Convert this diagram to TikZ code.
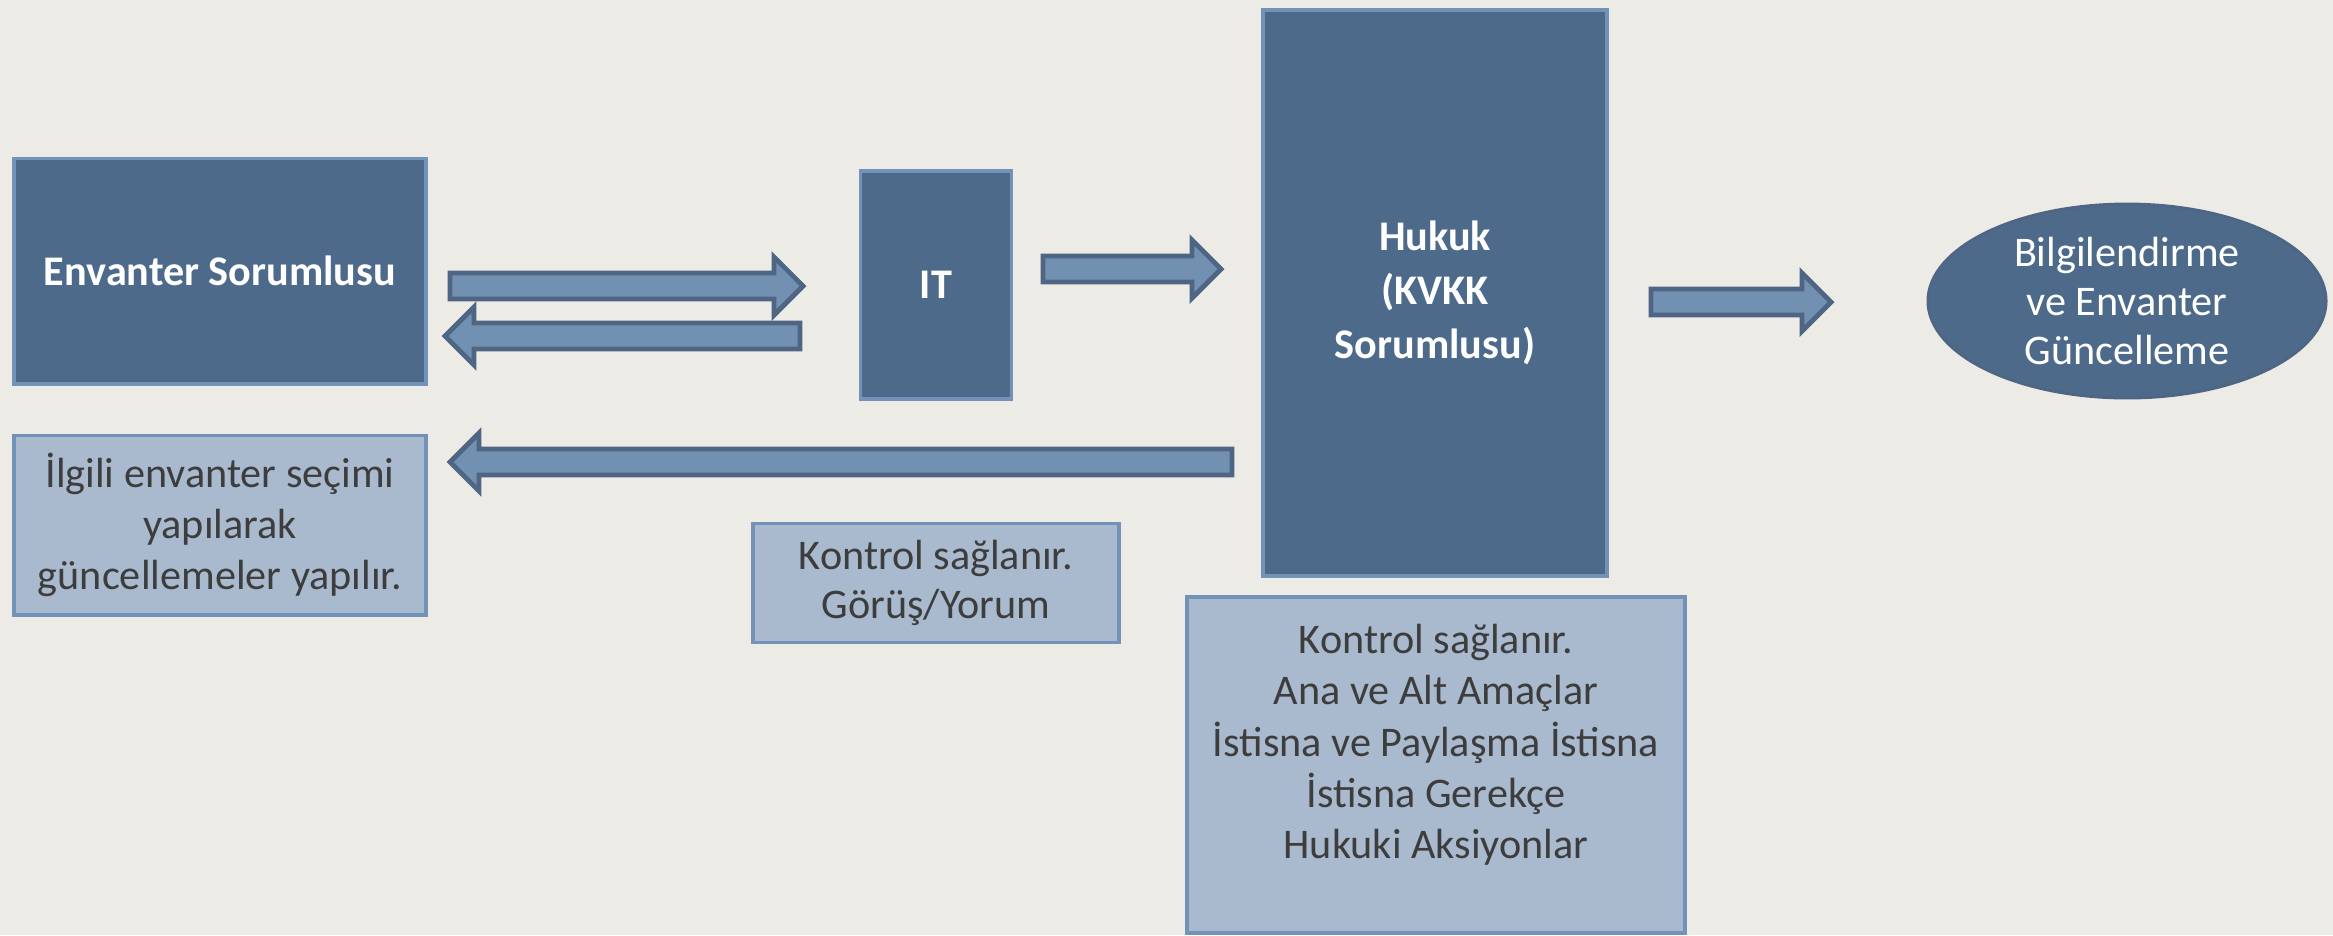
\documentclass[tikz,border=0pt]{standalone}
\usepackage{fontspec}
\setmainfont{Carlito}
\usetikzlibrary{calc,shapes.geometric}

\definecolor{paper}{HTML}{EDEBE6}
\definecolor{darkfill}{HTML}{4D6A8A}
\definecolor{boxedge}{HTML}{7392B7}
\definecolor{lightfill}{HTML}{A9BACF}
\definecolor{arrowfill}{HTML}{7290B2}
\definecolor{arrowedge}{HTML}{4F6584}
\definecolor{textgray}{HTML}{3D3D3D}

\newcommand{\boxfont}{\fontsize{12pt}{14.6pt}\selectfont}
\def\fatlen{0.29cm}
\def\fathead{0.29cm}
\def\fatshaft{0.13cm}
% block arrow from #1 to #2 (horizontal)
\newcommand{\fatarrow}[2]{%
  \draw[fatarrow] let \p1=(#1), \p2=(#2), \p3=($(#2)!\fatlen!(#1)$) in
    (\x1,\y1+\fatshaft) -- (\x3,\y1+\fatshaft) -- (\x3,\y1+\fathead) -- (\x2,\y2)
    -- (\x3,\y1-\fathead) -- (\x3,\y1-\fatshaft) -- (\x1,\y1-\fatshaft) -- cycle;}

\tikzset{
  darkbox/.style={draw=boxedge, fill=darkfill, line width=1.1pt, text=white,
    font=\boxfont\bfseries, align=center, inner sep=0pt},
  lightbox/.style={draw=boxedge, fill=lightfill, line width=1.1pt, text=textgray,
    font=\boxfont, align=center, inner sep=0pt},
  bubble/.style={ellipse, draw=arrowedge, fill=darkfill, line width=0.8pt, text=white,
    font=\boxfont, align=center, inner sep=0pt},
  fatarrow/.style={draw=arrowedge, fill=arrowfill, line width=1.4pt},
}

\begin{document}
\begin{tikzpicture}[x=0.01cm, y=-0.01cm]
    \fill[paper] (0,0) rectangle (2333,935);
    \useasboundingbox (0,0) rectangle (2333,935);

    % Dark boxes
    \node[darkbox, minimum width=4.11cm, minimum height=2.25cm] (es) at (220,271) {Envanter Sorumlusu};
    \node[darkbox, minimum width=1.51cm, minimum height=2.28cm] (it) at (936,285) {IT};
    \node[darkbox, minimum width=3.44cm, minimum height=5.66cm, font=\fontsize{12pt}{15.4pt}\selectfont\bfseries] (hukuk) at (1435,293) {Hukuk\\(KVKK\\Sorumlusu)};
    \node[bubble, minimum width=3.98cm, minimum height=1.94cm, font=\fontsize{12pt}{14pt}\selectfont] (bilgi) at (2127,301) {Bilgilendirme\\ve Envanter\\Güncelleme};

    % Light boxes
    \node[lightbox, minimum width=4.11cm, minimum height=1.79cm] (ilgili) at (220,525) {İlgili envanter seçimi\\yapılarak\\güncellemeler yapılır.};
    \node[lightbox, minimum width=3.66cm, minimum height=1.19cm, font=\fontsize{12pt}{14pt}\selectfont] (gorus) at (936,583) {Kontrol sağlanır.\\Görüş/Yorum};
    \node[lightbox, minimum width=4.98cm, minimum height=3.36cm] (detay) at (1436,765) {};
    \node[text=textgray, font=\boxfont, align=center] (detay-text) at (1436,745) {Kontrol sağlanır.\\Ana ve Alt Amaçlar\\İstisna ve Paylaşma İstisna\\İstisna Gerekçe\\Hukuki Aksiyonlar};

    % Arrow ends
    \coordinate (es-it-a) at (450,286);
    \coordinate (es-it-b) at (803,286);
    \coordinate (it-es-a) at (800,336);
    \coordinate (it-es-b) at (445,336);
    \coordinate (it-hk-a) at (1043,269);
    \coordinate (it-hk-b) at (1221,269);
    \coordinate (hk-il-a) at (1232,462);
    \coordinate (hk-il-b) at (450,462);
    \coordinate (hk-bg-a) at (1651,302);
    \coordinate (hk-bg-b) at (1831,302);

    % Arrows
    \fatarrow{es-it-a}{es-it-b}
    \fatarrow{it-es-a}{it-es-b}
    \fatarrow{it-hk-a}{it-hk-b}
    \fatarrow{hk-il-a}{hk-il-b}
    \fatarrow{hk-bg-a}{hk-bg-b}
\end{tikzpicture}
\end{document}
